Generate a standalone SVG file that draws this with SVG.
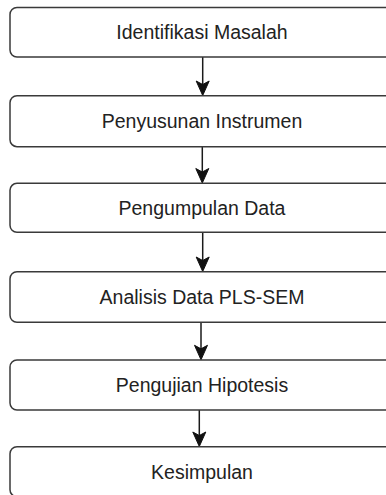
<svg xmlns="http://www.w3.org/2000/svg" width="386" height="495" viewBox="0 0 386 495">
<defs>
<style>
.box{fill:#fff;stroke:#3a3a3a;stroke-width:1.5}
.lbl{font-family:"Liberation Sans",Arial,sans-serif;font-size:19.5px;fill:#222;text-anchor:middle}
.edge{stroke:#1a1a1a;stroke-width:1.5;fill:none}
.head{fill:#111;stroke:#111;stroke-width:1}
</style>
</defs>
<rect width="386" height="495" fill="#fff"/>
<g id="connectors">
<line class="edge" x1="202.7" y1="57" x2="202.7" y2="88"/>
<path class="head" d="M202.7,95.5 L196.2,81 L202.7,84.5 L209.2,81 Z"/>
<line class="edge" x1="202.3" y1="146.7" x2="202.3" y2="176"/>
<path class="head" d="M202.3,183 L195.8,168.5 L202.3,172 L208.8,168.5 Z"/>
<line class="edge" x1="202.7" y1="232.3" x2="202.7" y2="264"/>
<path class="head" d="M202.7,271.5 L196.2,257 L202.7,260.5 L209.2,257 Z"/>
<line class="edge" x1="201" y1="322.3" x2="201" y2="352"/>
<path class="head" d="M201,359.8 L194.5,345.3 L201,348.8 L207.5,345.3 Z"/>
<line class="edge" x1="199.3" y1="410" x2="199.3" y2="439"/>
<path class="head" d="M199.3,446.5 L192.8,432 L199.3,435.5 L205.8,432 Z"/>
</g>
<g id="n1"><rect class="box" x="10" y="7.5" width="384" height="49.5" rx="7"/><text class="lbl" x="202" y="39">Identifikasi Masalah</text></g>
<g id="n2"><rect class="box" x="10" y="95.7" width="384" height="51" rx="7"/><text class="lbl" x="202" y="128">Penyusunan Instrumen</text></g>
<g id="n3"><rect class="box" x="10" y="183.3" width="384" height="49" rx="7"/><text class="lbl" x="202" y="214.7">Pengumpulan Data</text></g>
<g id="n4"><rect class="box" x="10" y="271.7" width="384" height="50.6" rx="7"/><text class="lbl" x="202" y="303.8">Analisis Data PLS-SEM</text></g>
<g id="n5"><rect class="box" x="10" y="360" width="384" height="50" rx="7"/><text class="lbl" x="202" y="391.8">Pengujian Hipotesis</text></g>
<g id="n6"><rect class="box" x="10" y="446.7" width="384" height="50" rx="7"/><text class="lbl" x="202" y="478.5">Kesimpulan</text></g>
</svg>
